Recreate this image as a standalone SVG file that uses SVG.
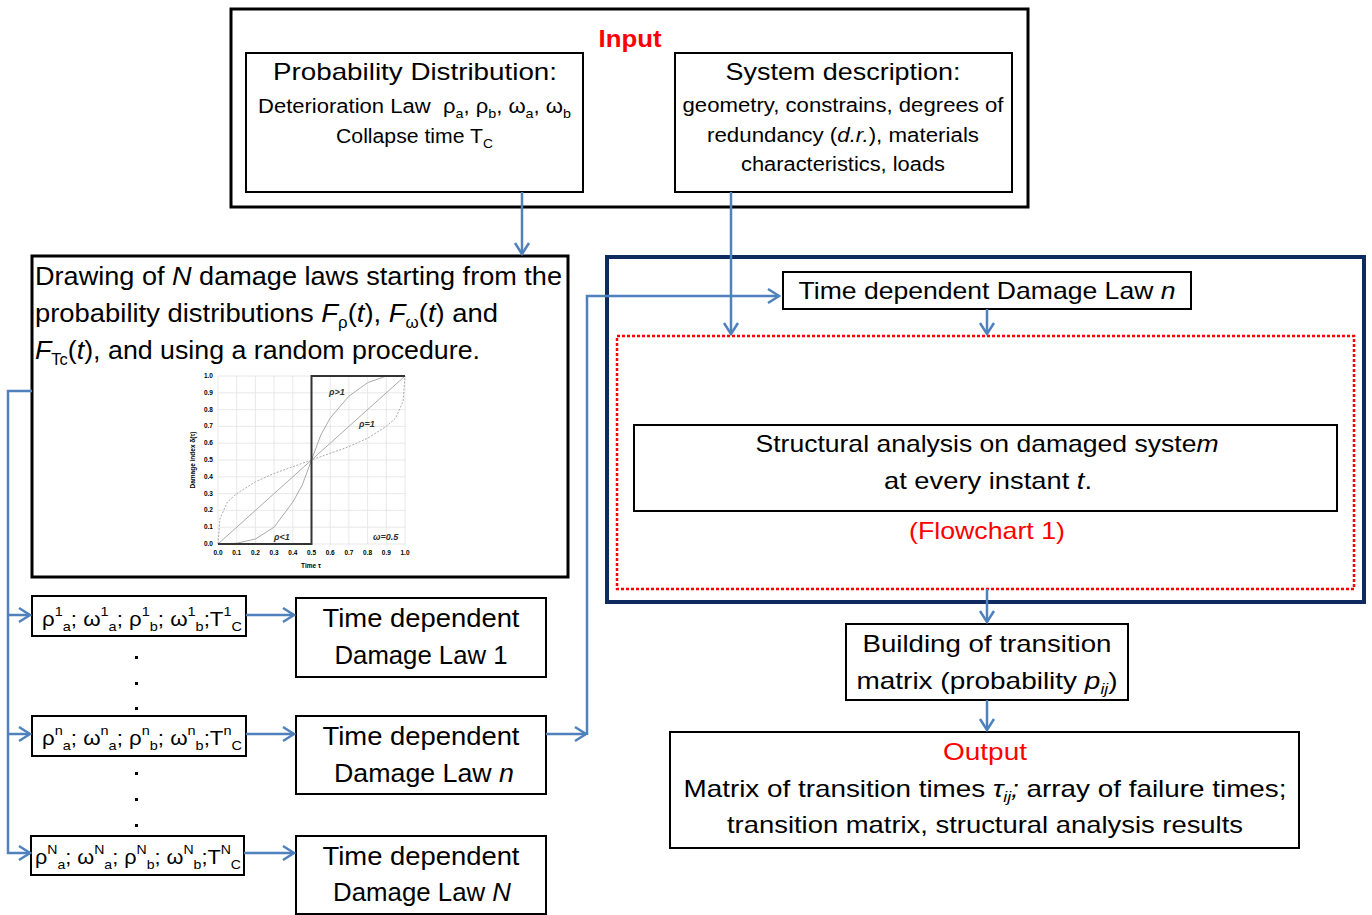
<svg xmlns="http://www.w3.org/2000/svg" width="1372" height="915" viewBox="0 0 1372 915">
<style>
text{font-family:"Liberation Sans",Arial,sans-serif;fill:#000}
.box{fill:#fff;stroke:#000;stroke-width:2}
.t26{font-size:26px}
.t24{font-size:24px}
.t20{font-size:20px}
.red{fill:#f00}
.sp,.sb{font-size:13px}
.conn{fill:none;stroke:#4F81BD;stroke-width:2.5}
.grid{stroke:#e2e2e2;stroke-width:0.8;fill:none}
.ax{font-size:6.5px;font-weight:bold;fill:#444}
.cv{fill:none;stroke:#aaa;stroke-width:1}
.lbl{font-size:9px;font-style:italic;font-weight:bold;fill:#333}
.mid{text-anchor:middle}
</style>
<defs>
<marker id="arr" markerUnits="userSpaceOnUse" markerWidth="16" markerHeight="18" refX="12" refY="8" orient="auto" viewBox="0 0 16 16">
<path d="M1,1 L12,8 L1,15" fill="none" stroke="#4F81BD" stroke-width="2.5"/>
</marker>
</defs>
<rect width="1372" height="915" fill="#fff"/>

<g id="input">
<rect x="231" y="9" width="797" height="198" fill="#fff" stroke="#000" stroke-width="3"/>
<text x="630" y="47" class="mid red" font-size="23" font-weight="bold" textLength="63" lengthAdjust="spacingAndGlyphs">Input</text>
</g>
<g id="prob">
<rect x="246" y="53" width="337" height="139" class="box"/>
<text x="415" y="80" class="t24 mid" textLength="284" lengthAdjust="spacingAndGlyphs">Probability Distribution:</text>
<text x="258" y="113" class="t20" textLength="313" lengthAdjust="spacingAndGlyphs">Deterioration Law&#160; ρ<tspan class="sb" dy="5">a</tspan><tspan dy="-5">, ρ</tspan><tspan class="sb" dy="5">b</tspan><tspan dy="-5">, ω</tspan><tspan class="sb" dy="5">a</tspan><tspan dy="-5">, ω</tspan><tspan class="sb" dy="5">b</tspan></text>
<text x="336" y="143" class="t20" textLength="157" lengthAdjust="spacingAndGlyphs">Collapse time T<tspan class="sb" dy="5">C</tspan></text>
</g>
<g id="system">
<rect x="675" y="53" width="337" height="139" class="box"/>
<text x="843" y="80" class="t24 mid" textLength="235" lengthAdjust="spacingAndGlyphs">System description:</text>
<text x="843" y="112" class="t20 mid" textLength="321" lengthAdjust="spacingAndGlyphs">geometry, constrains, degrees of</text>
<text x="843" y="142" class="t20 mid" textLength="272" lengthAdjust="spacingAndGlyphs">redundancy (<tspan font-style="italic">d.r.</tspan>), materials</text>
<text x="843" y="171" class="t20 mid" textLength="204" lengthAdjust="spacingAndGlyphs">characteristics, loads</text>
</g>

<g id="drawing">
<rect x="32" y="256" width="536" height="321" fill="#fff" stroke="#000" stroke-width="3"/>
<text x="35" y="285" class="t26" textLength="527" lengthAdjust="spacingAndGlyphs">Drawing of <tspan font-style="italic">N</tspan> damage laws starting from the</text>
<text x="35" y="322" class="t26" textLength="463" lengthAdjust="spacingAndGlyphs">probability distributions <tspan font-style="italic">F</tspan><tspan font-size="16" dy="6">ρ</tspan><tspan dy="-6">(</tspan><tspan font-style="italic">t</tspan>), <tspan font-style="italic">F</tspan><tspan font-size="16" dy="6">ω</tspan><tspan dy="-6">(</tspan><tspan font-style="italic">t</tspan>) and</text>
<text x="35" y="359" class="t26" textLength="445" lengthAdjust="spacingAndGlyphs"><tspan font-style="italic">F</tspan><tspan font-size="16" dy="6">Tc</tspan><tspan dy="-6">(</tspan><tspan font-style="italic">t</tspan>), and using a random procedure.</text>
<g id="chart">
<path class="grid" d="M218,376V544M236.7,376V544M255.4,376V544M274.1,376V544M292.8,376V544M311.5,376V544M330.2,376V544M348.9,376V544M367.6,376V544M386.3,376V544M405,376V544M218,376H405M218,392.8H405M218,409.6H405M218,426.4H405M218,443.2H405M218,460H405M218,476.8H405M218,493.6H405M218,510.4H405M218,527.2H405M218,544H405"/>
<polyline class="cv" points="218,544 405,376"/>
<polyline class="cv" points="218,544 236.7,543.2 255.4,539 274.1,527.2 292.8,502 302.2,485.2 311.5,460 320.9,434.8 330.2,418 348.9,396.2 367.6,382.7 386.3,376 405,376"/>
<polyline class="cv" stroke-dasharray="2 1.5" points="218,544 219.9,518.8 227.4,502 236.7,493.6 255.4,481.8 274.1,473.4 292.8,466.7 311.5,460 330.2,453.3 348.9,446.6 367.6,438.2 386.3,426.4 395.7,418 403.1,401.2 405,376"/>
<path d="M218,544H311.5V376H405" fill="none" stroke="#333" stroke-width="2"/>
<g class="ax" text-anchor="end">
<text x="213" y="546">0.0</text><text x="213" y="529.2">0.1</text><text x="213" y="512.4">0.2</text><text x="213" y="495.6">0.3</text><text x="213" y="478.8">0.4</text><text x="213" y="462">0.5</text><text x="213" y="445.2">0.6</text><text x="213" y="428.4">0.7</text><text x="213" y="411.6">0.8</text><text x="213" y="394.8">0.9</text><text x="213" y="378">1.0</text>
</g>
<g class="ax" text-anchor="middle">
<text x="218" y="555">0.0</text><text x="236.7" y="555">0.1</text><text x="255.4" y="555">0.2</text><text x="274.1" y="555">0.3</text><text x="292.8" y="555">0.4</text><text x="311.5" y="555">0.5</text><text x="330.2" y="555">0.6</text><text x="348.9" y="555">0.7</text><text x="367.6" y="555">0.8</text><text x="386.3" y="555">0.9</text><text x="405" y="555">1.0</text>
<text x="311" y="568">Time  τ</text>
<text transform="translate(195,460) rotate(-90)">Damage index  δ(τ)</text>
</g>
<text x="329" y="395" class="lbl">ρ&gt;1</text>
<text x="359" y="427" class="lbl">ρ=1</text>
<text x="274" y="540" class="lbl">ρ&lt;1</text>
<text x="373" y="540" class="lbl">ω=0.5</text>
</g>
</g>

<g id="param1">
<rect x="32" y="596" width="214" height="40" class="box"/>
<text x="42" y="626" class="t20" textLength="200" lengthAdjust="spacingAndGlyphs">ρ<tspan class="sp" dy="-10">1</tspan><tspan class="sb" dy="15">a</tspan><tspan dy="-5">; ω</tspan><tspan class="sp" dy="-10">1</tspan><tspan class="sb" dy="15">a</tspan><tspan dy="-5">; ρ</tspan><tspan class="sp" dy="-10">1</tspan><tspan class="sb" dy="15">b</tspan><tspan dy="-5">; ω</tspan><tspan class="sp" dy="-10">1</tspan><tspan class="sb" dy="15">b</tspan><tspan dy="-5">;T</tspan><tspan class="sp" dy="-10">1</tspan><tspan class="sb" dy="15">C</tspan></text>
</g>
<g id="paramn">
<rect x="32" y="716" width="214" height="40" class="box"/>
<text x="42" y="745" class="t20" textLength="200" lengthAdjust="spacingAndGlyphs">ρ<tspan class="sp" dy="-10">n</tspan><tspan class="sb" dy="15">a</tspan><tspan dy="-5">; ω</tspan><tspan class="sp" dy="-10">n</tspan><tspan class="sb" dy="15">a</tspan><tspan dy="-5">; ρ</tspan><tspan class="sp" dy="-10">n</tspan><tspan class="sb" dy="15">b</tspan><tspan dy="-5">; ω</tspan><tspan class="sp" dy="-10">n</tspan><tspan class="sb" dy="15">b</tspan><tspan dy="-5">;T</tspan><tspan class="sp" dy="-10">n</tspan><tspan class="sb" dy="15">C</tspan></text>
</g>
<g id="paramN">
<rect x="31" y="836" width="213" height="39" class="box"/>
<text x="35" y="864" class="t20" textLength="206" lengthAdjust="spacingAndGlyphs">ρ<tspan class="sp" dy="-10">N</tspan><tspan class="sb" dy="15">a</tspan><tspan dy="-5">; ω</tspan><tspan class="sp" dy="-10">N</tspan><tspan class="sb" dy="15">a</tspan><tspan dy="-5">; ρ</tspan><tspan class="sp" dy="-10">N</tspan><tspan class="sb" dy="15">b</tspan><tspan dy="-5">; ω</tspan><tspan class="sp" dy="-10">N</tspan><tspan class="sb" dy="15">b</tspan><tspan dy="-5">;T</tspan><tspan class="sp" dy="-10">N</tspan><tspan class="sb" dy="15">C</tspan></text>
</g>
<g id="dots" fill="#000">
<rect x="135" y="656" width="3" height="3"/><rect x="135" y="682" width="3" height="3"/><rect x="135" y="707" width="3" height="3"/>
<rect x="135" y="772" width="3" height="3"/><rect x="135" y="798" width="3" height="3"/><rect x="135" y="824" width="3" height="3"/>
</g>

<g id="law1">
<rect x="296" y="598" width="250" height="79" class="box"/>
<text x="421" y="627" class="t26 mid" textLength="197" lengthAdjust="spacingAndGlyphs">Time dependent</text>
<text x="421" y="664" class="t26 mid" textLength="173" lengthAdjust="spacingAndGlyphs">Damage Law 1</text>
</g>
<g id="lawn">
<rect x="296" y="716" width="250" height="78" class="box"/>
<text x="421" y="745" class="t26 mid" textLength="197" lengthAdjust="spacingAndGlyphs">Time dependent</text>
<text x="424" y="782" class="t26 mid" textLength="180" lengthAdjust="spacingAndGlyphs">Damage Law <tspan font-style="italic">n</tspan></text>
</g>
<g id="lawN">
<rect x="296" y="836" width="250" height="78" class="box"/>
<text x="421" y="865" class="t26 mid" textLength="197" lengthAdjust="spacingAndGlyphs">Time dependent</text>
<text x="422" y="901" class="t26 mid" textLength="178" lengthAdjust="spacingAndGlyphs">Damage Law <tspan font-style="italic">N</tspan></text>
</g>

<g id="loop">
<rect x="607" y="257" width="757" height="345" fill="none" stroke="#0F2A5F" stroke-width="4"/>
<rect x="617" y="336" width="737" height="253" fill="none" stroke="#f00" stroke-width="2.5" stroke-dasharray="3 2"/>
</g>
<g id="lawtop">
<rect x="783" y="272" width="408" height="37" class="box"/>
<text x="987" y="299" class="t24 mid" textLength="377" lengthAdjust="spacingAndGlyphs">Time dependent Damage Law <tspan font-style="italic">n</tspan></text>
</g>
<g id="structural">
<rect x="634" y="425" width="703" height="86" class="box"/>
<text x="987" y="452" class="t24 mid" textLength="463" lengthAdjust="spacingAndGlyphs">Structural analysis on damaged syste<tspan font-style="italic">m</tspan></text>
<text x="988" y="489" class="t24 mid" textLength="208" lengthAdjust="spacingAndGlyphs">at every instant <tspan font-style="italic">t</tspan>.</text>
</g>
<g id="flowchart">
<text x="987" y="539" class="t24 mid red" textLength="156" lengthAdjust="spacingAndGlyphs">(Flowchart 1)</text>
</g>
<g id="building">
<rect x="846" y="624" width="282" height="76" class="box"/>
<text x="987" y="652" class="t24 mid" textLength="249" lengthAdjust="spacingAndGlyphs">Building of transition</text>
<text x="987" y="689" class="t24 mid" textLength="261" lengthAdjust="spacingAndGlyphs">matrix (probability <tspan font-style="italic">p</tspan><tspan font-style="italic" font-size="15" dy="5">ij</tspan><tspan dy="-5">)</tspan></text>
</g>
<g id="output">
<rect x="670" y="732" width="629" height="116" class="box"/>
<text x="985" y="760" class="t24 mid red" textLength="84" lengthAdjust="spacingAndGlyphs">Output</text>
<text x="985" y="797" class="t24 mid" textLength="603" lengthAdjust="spacingAndGlyphs">Matrix of transition times <tspan font-style="italic">τ</tspan><tspan font-style="italic" font-size="15" dy="5">ij</tspan><tspan dy="-5" font-style="italic">;</tspan> array of failure times;</text>
<text x="985" y="833" class="t24 mid" textLength="516" lengthAdjust="spacingAndGlyphs">transition matrix, structural analysis results</text>
</g>

<g id="connectors">
<path class="conn" d="M522,192V254" marker-end="url(#arr)"/>
<path class="conn" d="M731,192V334" marker-end="url(#arr)"/>
<path class="conn" d="M32,391H8V853H30" marker-end="url(#arr)"/>
<path class="conn" d="M8,615H30" marker-end="url(#arr)"/>
<path class="conn" d="M8,734H30" marker-end="url(#arr)"/>
<path class="conn" d="M246,615H294" marker-end="url(#arr)"/>
<path class="conn" d="M246,734H294" marker-end="url(#arr)"/>
<path class="conn" d="M244,853H294" marker-end="url(#arr)"/>
<path class="conn" d="M546,734H586" marker-end="url(#arr)"/>
<path class="conn" d="M587,735V296H779" marker-end="url(#arr)"/>
<path class="conn" d="M987,309V334" marker-end="url(#arr)"/>
<path class="conn" d="M987,589V622" marker-end="url(#arr)"/>
<path class="conn" d="M987,700V730" marker-end="url(#arr)"/>
</g>
</svg>
